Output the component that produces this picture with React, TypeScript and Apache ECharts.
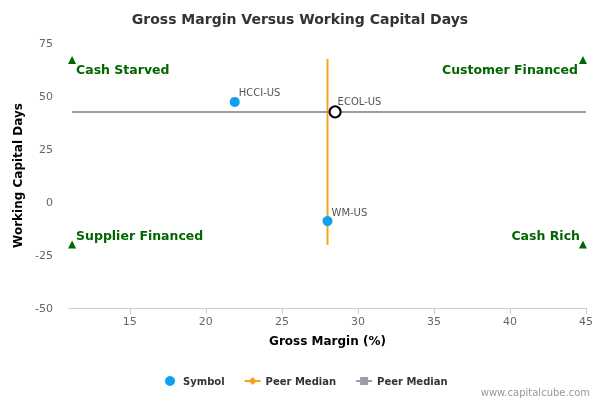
import React, { useEffect, useRef } from "react";
import * as echarts from "echarts";

// company points: [gross margin %, working capital days]
const symbolNames = ["HCCI-US", "ECOL-US", "WM-US"];
const symbolX = [21.9, 28.5, 28.0];
const symbolY = [47.2, 42.5, -9.0];

// peer medians
const medianMargin = 28.0;
const medianDays = 42.5;
const verticalSpan = [67.5, -20.3];
const horizontalSpan = [11.2, 45];

// quadrant markers
const quadrantNames = ["Cash Starved", "Customer Financed", "Supplier Financed", "Cash Rich"];
const quadrantX = [11.2, 44.8, 11.2, 44.8];
const quadrantY = [67, 67, -20, -20];

const xTicks = [15, 20, 25, 30, 35, 40, 45];

const font = "DejaVu Sans";
const style: React.CSSProperties = { position: "fixed", left: 0, top: 0, width: "600px", height: "400px" };

const quadrantLabel = [
  { position: [8, 14], align: "left" },
  { position: [-1, 14], align: "right" },
  { position: [8, -5], align: "left" },
  { position: [1, -5], align: "right" },
];

const App: React.FC = () => {
  const chartRef = useRef<HTMLDivElement>(null);

  useEffect(() => {
    if (!chartRef.current) return;
    const chart = echarts.init(chartRef.current, null, { renderer: "svg" });

    const symbolData = symbolNames.map((name, i) => {
      const item: any = { name, value: [symbolX[i], symbolY[i]] };
      if (name === "ECOL-US") {
        item.symbolSize = 11;
        item.itemStyle = { color: "#ffffff", borderColor: "#000000", borderWidth: 2 };
      }
      return item;
    });

    const quadrantData = quadrantNames.map((name, i) => ({
      name,
      value: [quadrantX[i], quadrantY[i]],
      label: {
        show: true,
        formatter: name,
        position: quadrantLabel[i].position,
        align: quadrantLabel[i].align,
        verticalAlign: "middle",
      },
    }));

    const option = {
      animation: false,
      textStyle: { fontFamily: font },
      title: {
        text: "Gross Margin Versus Working Capital Days",
        left: "center",
        top: 7,
        textStyle: { fontFamily: font, fontSize: 14, fontWeight: "bold", color: "#333333" },
      },
      grid: { left: 69, right: 14, top: 43, bottom: 92 },
      xAxis: {
        type: "value",
        min: 11,
        max: 45,
        name: "Gross Margin (%)",
        nameLocation: "middle",
        nameGap: 27,
        nameTextStyle: { fontFamily: font, fontSize: 12, fontWeight: "bold", color: "#000000" },
        axisLine: { show: true, onZero: false, lineStyle: { color: "#c0d0e0" } },
        axisTick: { show: true, length: 6, customValues: xTicks, lineStyle: { color: "#c0d0e0" } },
        axisLabel: { customValues: xTicks, fontSize: 11, color: "#666666", margin: 8 },
        splitLine: { show: false },
      },
      yAxis: {
        type: "value",
        min: -50,
        max: 75,
        interval: 25,
        name: "Working Capital Days",
        nameLocation: "middle",
        nameGap: 42,
        nameTextStyle: { fontFamily: font, fontSize: 12, fontWeight: "bold", color: "#000000" },
        axisLine: { show: false },
        axisTick: { show: false },
        axisLabel: { fontSize: 11, color: "#666666", margin: 16 },
        splitLine: { show: false },
      },
      legend: {
        bottom: 9,
        left: 160,
        itemWidth: 16,
        itemHeight: 10,
        itemGap: 19,
        textStyle: { fontFamily: font, fontSize: 10, fontWeight: "bold", color: "#333333" },
        data: ["Symbol", "Peer Median", "Peer Median "],
      },
      graphic: [
        {
          type: "text",
          right: 10,
          bottom: 3,
          style: { text: "www.capitalcube.com", fontFamily: font, fontSize: 10, fill: "#999999" },
        },
      ],
      series: [
        {
          name: "Peer Median",
          type: "line",
          symbol: "diamond",
          showSymbol: false,
          color: "#f7a21b",
          lineStyle: { color: "#f7a21b", width: 2 },
          data: verticalSpan.map((y) => [medianMargin, y]),
          z: 2,
        },
        {
          name: "Peer Median ",
          type: "line",
          symbol: "rect",
          showSymbol: false,
          color: "#9a9ca8",
          lineStyle: { color: "#9a9ca8", width: 2 },
          data: horizontalSpan.map((x) => [x, medianDays]),
          z: 2,
        },
        {
          name: "Quadrants",
          type: "scatter",
          symbol: "triangle",
          symbolSize: 8,
          itemStyle: { color: "#006600", opacity: 1 },
          label: {
            fontFamily: font,
            fontSize: 12.5,
            fontWeight: "bold",
            color: "#006600",
          },
          data: quadrantData,
          z: 3,
        },
        {
          name: "Symbol",
          type: "scatter",
          symbol: "circle",
          symbolSize: 10,
          itemStyle: { color: "#0fa0f0", opacity: 1 },
          label: {
            show: true,
            formatter: "{b}",
            position: [9, -4],
            align: "left",
            verticalAlign: "middle",
            fontFamily: font,
            fontSize: 10,
            color: "#555555",
          },
          data: symbolData,
          z: 4,
        },
      ],
    };

    chart.setOption(option as any);
    return () => {
      chart.dispose();
    };
  }, []);

  return <div ref={chartRef} style={style} />;
};

export default App;
